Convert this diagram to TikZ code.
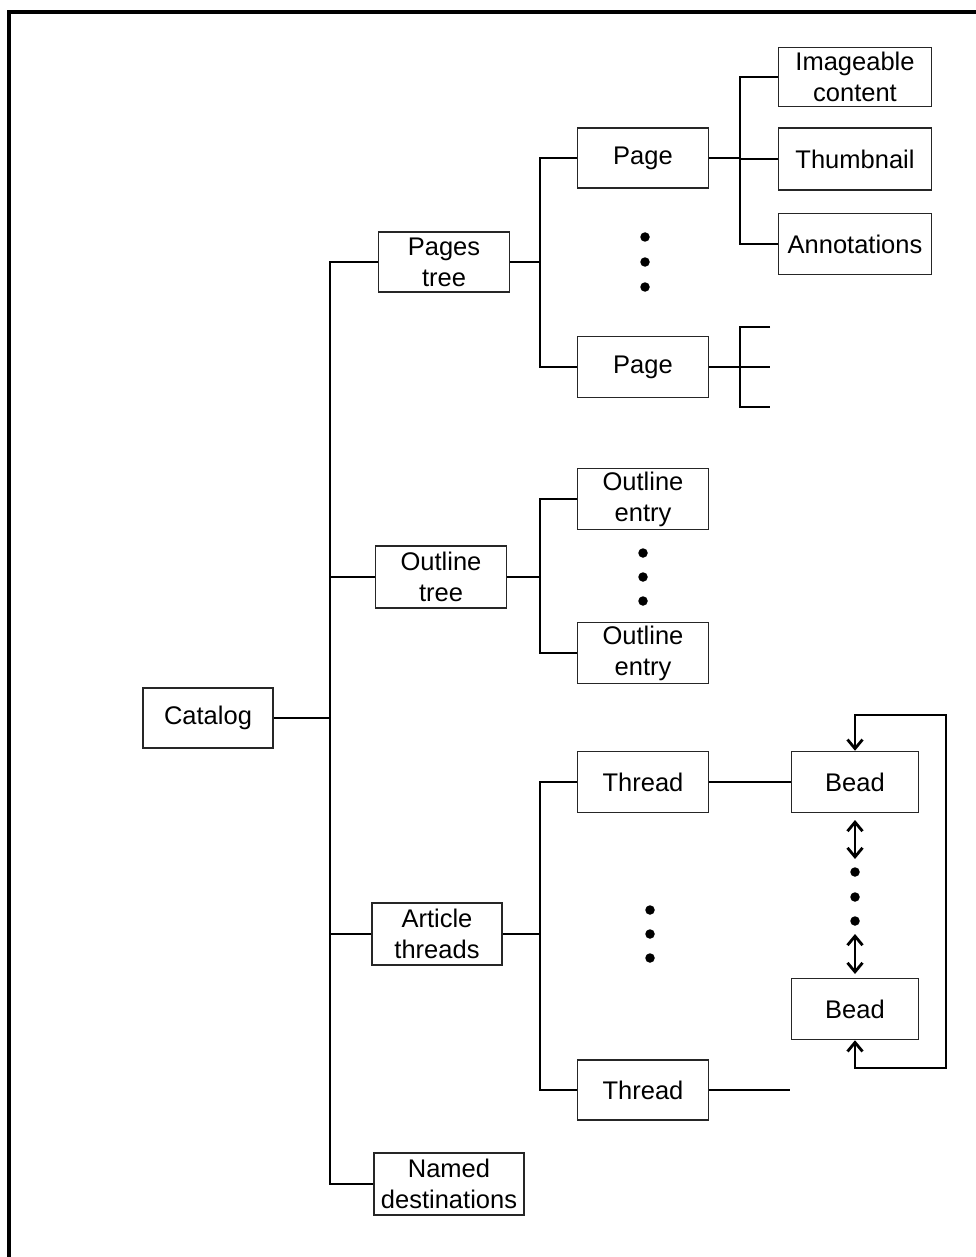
\documentclass[tikz,border=0pt]{standalone}
\usepackage{fontspec}
\setmainfont{Liberation Sans}
\usetikzlibrary{arrows.meta}
\tikzset{
  box/.style={draw=black!85, line width=1.5pt, align=center, inner sep=0pt,
    font=\fontsize{25.5}{31}\selectfont},
  conn/.style={line width=2.8pt},
  dot/.style={circle, fill=black, inner sep=0pt, minimum size=9.5pt},
  arr/.style={conn, {Straight Barb[length=9pt,width=15pt,line width=2.8pt]}-{Straight Barb[length=9pt,width=15pt,line width=2.8pt]}}
}
\begin{document}
\begin{tikzpicture}[x=1pt,y=-1pt]
\useasboundingbox (0,0) rectangle (975,1257);
\draw[line width=3.2pt] (9,12) rectangle (995,1280);

% nodes
\node[box, minimum width=130, minimum height=60] (cat) at (208,718) {Catalog};
\node[box, minimum width=131, minimum height=60] (pt) at (444,262) {Pages\\tree};
\node[box, minimum width=131, minimum height=62] (ot) at (441,577) {Outline\\tree};
\node[box, minimum width=130, minimum height=62] (at) at (437,934) {Article\\threads};
\node[box, minimum width=150, minimum height=62] (nd) at (449,1184) {Named\\destinations};

\node[box, minimum width=131, minimum height=60] (pg1) at (643,158) {Page};
\node[box, minimum width=131, minimum height=61] (pg2) at (643,367) {Page};
\node[box, minimum width=153, minimum height=59] (img) at (855,77) {Imageable\\content};
\node[box, minimum width=153, minimum height=62] (th) at (855,159) {Thumbnail};
\node[box, minimum width=153, minimum height=61] (ann) at (855,244) {Annotations};

\node[box, minimum width=131, minimum height=61] (oe1) at (643,499) {Outline\\entry};
\node[box, minimum width=131, minimum height=61] (oe2) at (643,653) {Outline\\entry};

\node[box, minimum width=131, minimum height=61] (tr1) at (643,782) {Thread};
\node[box, minimum width=131, minimum height=60] (tr2) at (643,1090) {Thread};
\node[box, minimum width=127, minimum height=61] (b1) at (855,782) {Bead};
\node[box, minimum width=127, minimum height=61] (b2) at (855,1009) {Bead};

% dots
\node[dot] (d1) at (645,237) {};
\node[dot] (d2) at (645,262) {};
\node[dot] (d3) at (645,287) {};
\node[dot] (d4) at (643,553) {};
\node[dot] (d5) at (643,577) {};
\node[dot] (d6) at (643,601) {};
\node[dot] (d7) at (650,910) {};
\node[dot] (d8) at (650,934) {};
\node[dot] (d9) at (650,958) {};
\node[dot] (d10) at (855,872) {};
\node[dot] (d11) at (855,897) {};
\node[dot] (d12) at (855,921) {};

% coordinates
\coordinate (trunk) at (330,0);
\coordinate (br) at (540,0);
\coordinate (pb) at (740,0);
\coordinate (s1) at (740,327);
\coordinate (s3) at (740,407);
\coordinate (send) at (770,0);
\coordinate (tend) at (790,1090);
\coordinate (lt) at (946,715);
\coordinate (lb) at (946,1068);
\coordinate (a1) at (855,820);
\coordinate (a2) at (855,859);
\coordinate (a3) at (855,934);
\coordinate (a4) at (855,974);

% trunk
\draw[conn] (pt.west) -| (trunk |- nd.west) -- (nd.west);
\draw[conn] (cat.east) -- (cat.east -| trunk);
\draw[conn] (ot.west) -- (ot.west -| trunk);
\draw[conn] (at.west) -- (at.west -| trunk);

% pages
\draw[conn] (pt.east) -- (pt.east -| br);
\draw[conn] (pg1.west) -| (br |- pg2.west) -- (pg2.west);
\draw[conn] (pg1.east) -- (pg1.east -| pb);
\draw[conn] (img.west) -| (pb |- ann.west) -- (ann.west);
\draw[conn] (th.west) -- (th.west -| pb);
\draw[conn] (pg2.east) -- (pg2.east -| pb);
\draw[conn] (s1 -| send) -- (s1) -- (s3) -- (s3 -| send);
\draw[conn] (pg2.east -| pb) -- (pg2.east -| send);

% outline
\draw[conn] (ot.east) -- (ot.east -| br);
\draw[conn] (oe1.west) -| (br |- oe2.west) -- (oe2.west);

% threads
\draw[conn] (at.east) -- (at.east -| br);
\draw[conn] (tr1.west) -| (br |- tr2.west) -- (tr2.west);
\draw[conn] (tr1.east) -- (b1.west);
\draw[conn] (tr2.east) -- (tend);

% bead links
\draw[arr] (b1.north) |- (lt) -- (lb) -| (b2.south);
\draw[arr] (a1) -- (a2);
\draw[arr] (a3) -- (a4);
\end{tikzpicture}
\end{document}
